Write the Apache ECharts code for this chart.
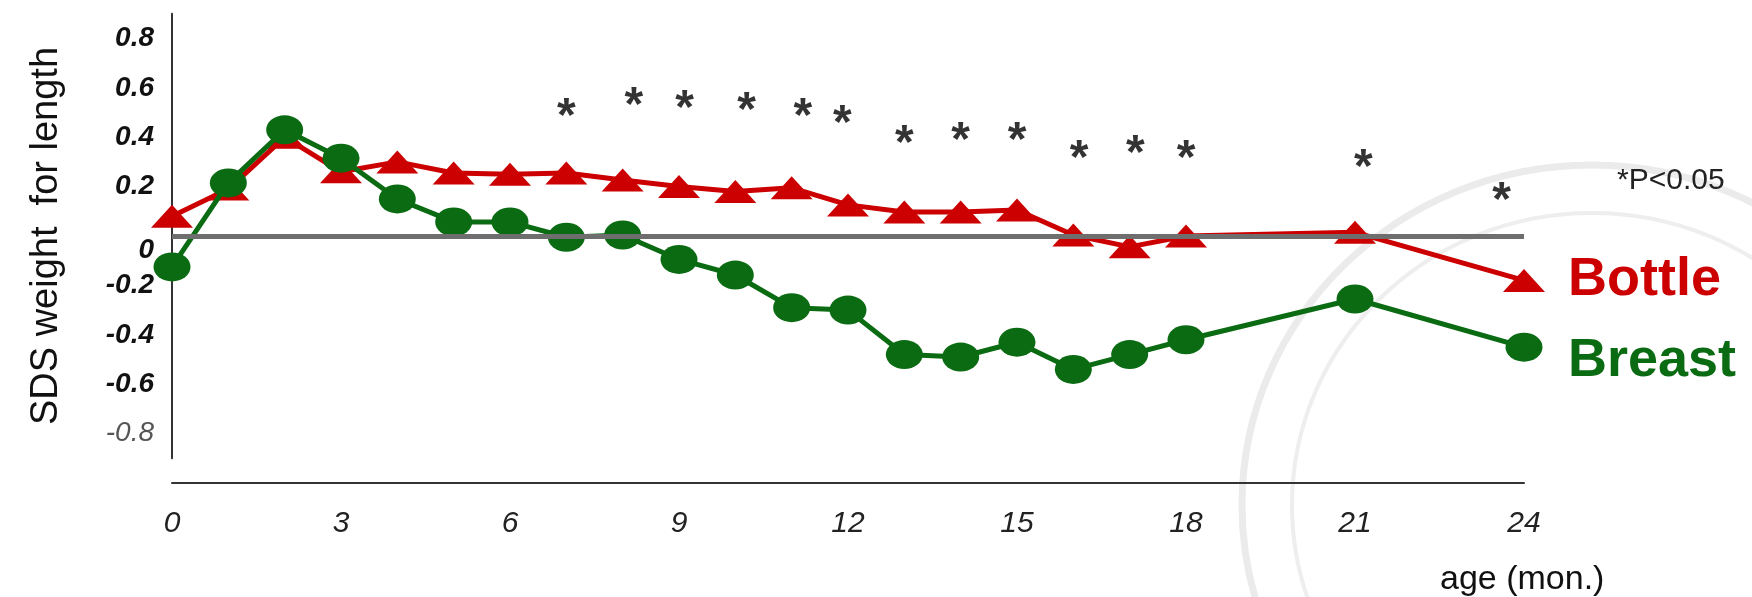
<!DOCTYPE html>
<html lang="en">
<head>
<meta charset="UTF-8">
<title>SDS weight for length</title>
<script src="https://cdn.jsdelivr.net/npm/echarts@6/dist/echarts.min.js"></script>
<style>
    html, body { margin: 0; padding: 0; background: #fff; }
    #chart { width: 1752px; height: 597px; }
</style>
</head>
<body>
<div id="chart"></div>
<script>
    // data (months of age, SDS values)
    var months = [0, 1, 2, 3, 4, 5, 6, 7, 8, 9, 10, 11, 12, 13, 14, 15, 16, 17, 18, 21, 24];
    var bottle = [0.08, 0.19, 0.40, 0.26, 0.30, 0.255, 0.25, 0.255, 0.227, 0.20, 0.18, 0.195, 0.126, 0.097, 0.097, 0.105, 0.004, -0.044, 0.0, 0.015, -0.18];
    var breast = [-0.125, 0.215, 0.43, 0.315, 0.15, 0.057, 0.057, -0.005, 0.004, -0.095, -0.158, -0.29, -0.30, -0.48, -0.49, -0.43, -0.54, -0.48, -0.42, -0.255, -0.45];

    // significance marks (*)
    var starMonths = [7, 8.2, 9.1, 10.2, 11.2, 11.9, 13, 14, 15, 16.1, 17.1, 18, 21.15, 23.6];
    var starLevels = [0.527, 0.572, 0.56, 0.55, 0.527, 0.50, 0.418, 0.43, 0.43, 0.357, 0.377, 0.357, 0.32, 0.187];

    var xTicks = [0, 3, 6, 9, 12, 15, 18, 21, 24];
    var xTickLabels = ['0', '3', '6', '9', '12', '15', '18', '21', '24'];
    var yTicks = [-0.8, -0.6, -0.4, -0.2, 0, 0.2, 0.4, 0.6, 0.8];
    var yTickLabels = ['-0.8', '-0.6', '-0.4', '-0.2', '0', '0.2', '0.4', '0.6', '0.8'];

    var FONT = '"Liberation Sans", Arial, sans-serif';
    var RED = '#cc0000';
    var GREEN = '#0b6b12';

    function zip(xs, ys) {
        var out = [];
        for (var i = 0; i < xs.length; i++) out.push([xs[i], ys[i]]);
        return out;
    }
    function findTick(list, v) {
        for (var i = 0; i < list.length; i++) {
            if (Math.abs(list[i] - v) < 1e-6) return i;
        }
        return -1;
    }

    var myChart = echarts.init(document.getElementById('chart'));

    var option = {
        animation: false,
        backgroundColor: '#fff',
        grid: {
            left: 172,
            right: 228,
            top: 13.7,
            bottom: 138.7,
            outerBoundsMode: 'none'
        },
        xAxis: {
            type: 'value',
            min: 0,
            max: 24,
            interval: 3,
            offset: 24,
            axisLine: { show: true, onZero: false, lineStyle: { color: '#333', width: 2 } },
            axisTick: { show: false },
            splitLine: { show: false },
            axisLabel: {
                margin: 26,
                color: '#222',
                fontFamily: FONT,
                fontStyle: 'italic',
                fontSize: 30,
                formatter: function (v) {
                    var i = findTick(xTicks, v);
                    return i < 0 ? '' : xTickLabels[i];
                }
            }
        },
        yAxis: {
            type: 'value',
            min: -0.9,
            max: 0.9,
            interval: 0.1,
            name: 'SDS weight  for length',
            nameLocation: 'middle',
            nameRotate: 90,
            nameGap: 106,
            nameTextStyle: { fontFamily: FONT, fontSize: 38, color: '#111' },
            axisLine: { show: true, onZero: false, lineStyle: { color: '#333', width: 2 } },
            axisTick: { show: false },
            splitLine: { show: false },
            axisLabel: {
                margin: 18,
                formatter: function (v) {
                    var i = findTick(yTicks, v);
                    if (i < 0) return '';
                    var s = yTickLabels[i];
                    if (s === '0') return '{zero|' + s + '}';
                    if (s === '-0.8') return '{thin|' + s + '}';
                    return '{b|' + s + '}';
                },
                rich: {
                    b: { fontFamily: FONT, fontSize: 28, fontWeight: 'bold', fontStyle: 'italic', color: '#111' },
                    zero: { fontFamily: FONT, fontSize: 28, fontWeight: 'bold', fontStyle: 'italic', color: '#111', padding: [28, 0, 0, 0] },
                    thin: { fontFamily: FONT, fontSize: 28, fontStyle: 'italic', color: '#555' }
                }
            }
        },
        graphic: [
            // faint seal watermark behind the right part of the plot
            {
                type: 'ellipse',
                z: -10,
                silent: true,
                shape: { cx: 1592, cy: 505, rx: 350, ry: 340 },
                style: { fill: null, stroke: '#ebebeb', lineWidth: 7 }
            },
            {
                type: 'ellipse',
                z: -10,
                silent: true,
                shape: { cx: 1592, cy: 505, rx: 300, ry: 292 },
                style: { fill: null, stroke: '#eeeeee', lineWidth: 4 }
            },
            {
                type: 'text',
                left: 1617,
                top: 166,
                style: { text: '*P<0.05', fontFamily: FONT, fontSize: 30, fill: '#222' }
            },
            {
                type: 'text',
                left: 1440,
                top: 563,
                style: { text: 'age (mon.)', fontFamily: FONT, fontSize: 34, fill: '#111' }
            }
        ],
        series: [
            {
                // zero reference line
                type: 'line',
                data: [],
                z: 1,
                silent: true,
                markLine: {
                    silent: true,
                    symbol: 'none',
                    label: { show: false },
                    lineStyle: { color: '#6e6e6e', width: 5, type: 'solid' },
                    data: [{ yAxis: 0 }]
                }
            },
            {
                name: 'Bottle',
                type: 'line',
                z: 3,
                data: zip(months, bottle),
                symbol: 'triangle',
                symbolSize: [42, 23],
                itemStyle: { color: RED },
                lineStyle: { color: RED, width: 5 },
                endLabel: {
                    show: true,
                    formatter: 'Bottle',
                    distance: 44,
                    fontFamily: FONT,
                    fontSize: 54,
                    fontWeight: 'bold',
                    color: RED
                }
            },
            {
                name: 'Breast',
                type: 'line',
                z: 4,
                data: zip(months, breast),
                symbol: 'circle',
                symbolSize: [37, 29],
                itemStyle: { color: GREEN },
                lineStyle: { color: GREEN, width: 5 },
                endLabel: {
                    show: true,
                    formatter: 'Breast',
                    distance: 44,
                    offset: [0, 14],
                    fontFamily: FONT,
                    fontSize: 54,
                    fontWeight: 'bold',
                    color: GREEN
                }
            },
            {
                type: 'scatter',
                z: 5,
                data: zip(starMonths, starLevels),
                symbolSize: 1,
                itemStyle: { color: 'rgba(0,0,0,0)' },
                label: {
                    show: true,
                    position: 'inside',
                    formatter: '*',
                    offset: [0, 12],
                    fontFamily: FONT,
                    fontSize: 48,
                    fontWeight: 'bold',
                    color: '#000'
                }
            }
        ]
    };

    myChart.setOption(option);
</script>
</body>
</html>
